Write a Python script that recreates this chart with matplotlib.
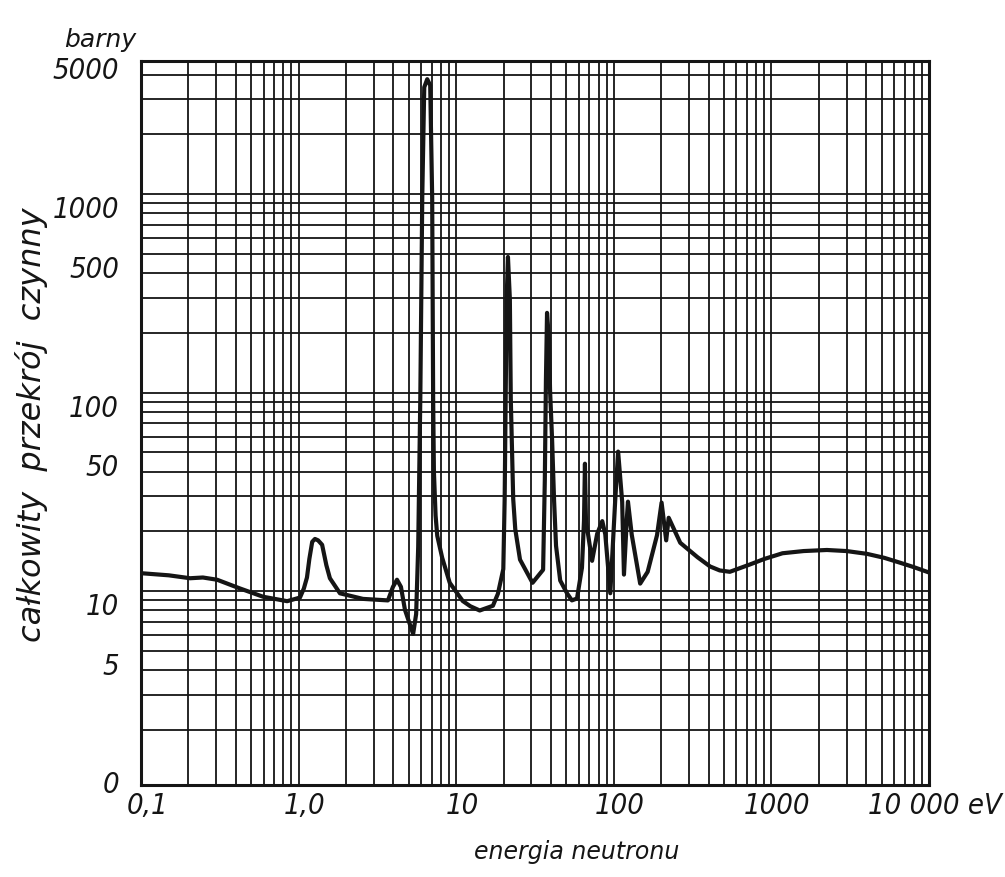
import numpy as np
import matplotlib
matplotlib.use("Agg")
import matplotlib.pyplot as plt
from matplotlib import transforms
from matplotlib.ticker import LogLocator, NullFormatter, NullLocator

# total cross-section (energy in eV, sigma in barns)
energy_ev = [0.1, 0.15, 0.205, 0.247, 0.304, 0.425, 0.595, 0.846, 1.02, 1.08,
             1.13, 1.17, 1.22, 1.27, 1.33, 1.41, 1.5, 1.58, 1.83, 2.56,
             3.69, 3.97, 4.21, 4.46, 4.73, 5.33, 5.57, 5.74, 5.92, 6.09,
             6.27, 6.55, 6.84, 7.04, 7.14, 7.22, 7.4, 7.58, 8.15, 9.1,
             11.0, 12.3, 14.1, 17.1, 18.4, 19.9, 20.3, 20.6, 20.9, 21.3,
             21.9, 22.2, 23.0, 23.7, 25.4, 30.5, 35.6, 36.5, 37.1, 37.7,
             38.8, 39.4, 40.6, 41.8, 43.0, 45.7, 50.5, 54.2, 58.4, 62.8,
             64.7, 65.6, 66.6, 68.6, 72.8, 78.4, 84.5, 88.3, 95.0, 102,
             106.5, 113, 116, 121, 123, 130, 147, 164, 188, 201,
             215, 223, 264, 340, 408, 470, 545, 729, 900, 1176,
             1600, 2250, 3000, 4030, 5200, 6530, 8000, 10000]
sigma_barn = [12.3, 12.0, 11.6, 11.7, 11.4, 10.3, 9.36, 8.89, 9.27, 10.3,
              11.7, 14.5, 17.7, 18.3, 18.0, 17.1, 13.5, 11.6, 9.74, 9.13,
              8.97, 10.5, 11.4, 10.5, 8.04, 6.08, 7.66, 16.7, 94.8, 964,
              3450, 3790, 3530, 962, 94.5, 40, 24, 19, 14.7, 11.0,
              8.91, 8.38, 7.98, 8.43, 9.7, 12.9, 29.1, 92.9, 296, 482,
              296, 92.9, 29.1, 20.5, 14.4, 11.0, 12.8, 36.3, 116, 252,
              184, 103, 57.7, 28.4, 16.9, 11.3, 9.74, 8.97, 9.17, 13.1,
              22.6, 43.8, 22.4, 19.4, 14.2, 19.4, 22.5, 19.3, 9.75, 28.3,
              50.4, 28.2, 12.1, 23.2, 28.2, 19.2, 10.9, 12.5, 19.1, 27.9,
              18.0, 23.4, 17.5, 14.8, 13.3, 12.7, 12.5, 13.6, 14.5, 15.5,
              15.9, 16.1, 15.9, 15.4, 14.7, 13.9, 13.2, 12.4]

x_tick_vals = [0.1, 1, 10, 100, 1000, 10000]
x_tick_labels = ["0,1", "1,0", "10", "100", "1000", "10 000 eV"]
y_tick_vals = [5, 10, 50, 100, 500, 1000, 5000]
y_tick_labels = ["5", "10", "50", "100", "500", "1000", "5000"]
y_bottom_label = "0"

ink = "#151515"
num_font = dict(family="DejaVu Sans", stretch="condensed", style="oblique",
                size=21, color=ink)
word_font = dict(family="DejaVu Sans", style="oblique", color=ink)

W, H = 1005, 877
fig = plt.figure(figsize=(W / 100, H / 100), dpi=100)
ax = fig.add_axes([141 / W, 1 - 785 / H, (929 - 141) / W, (785 - 61) / H])
ax.set_xscale("log")
ax.set_yscale("log")
ax.set_xlim(0.1, 10000)
ax.set_ylim(1.054, 4680)

# log paper: a line at every 1..9 x 10^k
for axis in (ax.xaxis, ax.yaxis):
    axis.set_major_locator(LogLocator(base=10, subs=np.arange(1, 10), numticks=60))
    axis.set_minor_locator(NullLocator())
    axis.set_major_formatter(NullFormatter())
ax.tick_params(length=0)
ax.grid(True, color=ink, lw=1.3)
ax.set_axisbelow(True)
for s in ax.spines.values():
    s.set_linewidth(2.2)
    s.set_color(ink)

ax.plot(energy_ev, sigma_barn, color=ink, lw=3, solid_joinstyle="round",
        solid_capstyle="round", zorder=3)

# tick labels, placed by hand like on the original sheet
xtrans = transforms.blended_transform_factory(ax.transData, ax.transAxes)
xlab_tr = transforms.offset_copy(xtrans, fig=fig, x=6, y=-21, units="dots")
for v, lab in zip(x_tick_vals, x_tick_labels):
    ax.text(v, 0, lab, transform=xlab_tr, ha="center", va="center", **num_font)

ytrans = transforms.blended_transform_factory(ax.transAxes, ax.transData)
ylab_tr = transforms.offset_copy(ytrans, fig=fig, x=-22, y=-16, units="dots")
for v, lab in zip(y_tick_vals, y_tick_labels):
    ax.text(0, v, lab, transform=ylab_tr, ha="right", va="center", **num_font)
ax.text(0, 0, y_bottom_label, ha="right", va="center",
        transform=transforms.offset_copy(ax.transAxes, fig=fig, x=-22, y=0, units="dots"),
        **num_font)

fig.text(100 / W, 1 - 40 / H, "barny", ha="center", va="center", size=18, **word_font)
fig.text(32 / W, 1 - 425 / H, "całkowity  przekrój  czynny", rotation=90,
         ha="center", va="center", size=23, **word_font)
fig.text(577 / W, 1 - 852 / H, "energia neutronu", ha="center", va="center",
         size=17, **word_font)

fig.savefig("out.png", dpi=100, facecolor="white")
